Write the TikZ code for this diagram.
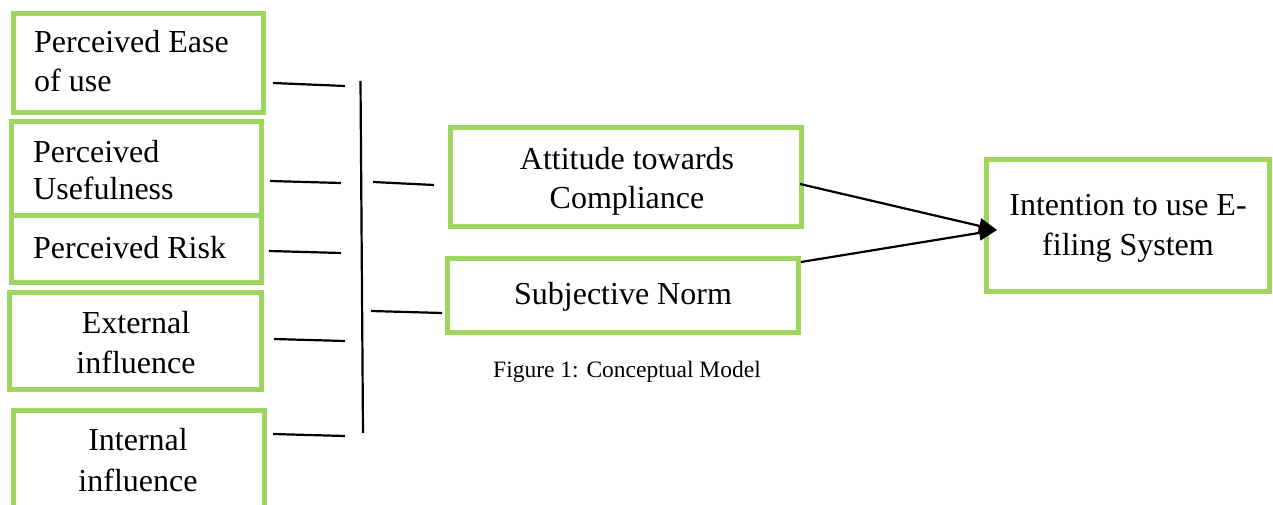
\documentclass[tikz,border=0pt]{standalone}
\usepackage{fontspec}
\setmainfont{Liberation Serif}
\usetikzlibrary{arrows.meta}
\definecolor{boxgreen}{RGB}{158,212,96}
\tikzset{
  gbox/.style={draw=boxgreen, line width=5pt, rectangle, inner sep=0pt},
  txt/.style={inner sep=0pt, font=\fontsize{32}{39}\selectfont},
  conn/.style={draw=black, line width=2.2pt},
  arr/.style={conn, -{Triangle[length=18pt,width=15pt]}},
}
\begin{document}
\begin{tikzpicture}[x=1pt,y=-1pt]
\useasboundingbox (0,0) rectangle (1273,505);
% left boxes
\node[gbox, minimum width=250pt, minimum height=99pt] (b1) at (138.5,63) {};
\node[txt, anchor=base west] (t1a) at (34,53) {Perceived Ease};
\node[txt, anchor=base west] (t1b) at (34,92) {of use};
\node[gbox, minimum width=250.5pt, minimum height=93.5pt] (b2) at (136.25,168.25) {};
\node[txt, anchor=base west] (t2a) at (33,163) {Perceived};
\node[txt, anchor=base west] (t2b) at (33,200) {Usefulness};
\node[gbox, minimum width=250.5pt, minimum height=67.5pt] (b3) at (136.25,248.75) {};
\node[txt, anchor=base west] (t3) at (33,258) {Perceived Risk};
\node[gbox, minimum width=252pt, minimum height=97pt] (b4) at (135.5,341) {};
\node[txt, anchor=base] (t4a) at (136,333) {External};
\node[txt, anchor=base] (t4b) at (136,373) {influence};
\node[gbox, minimum width=251pt, minimum height=110pt] (b5) at (139,465.5) {};
\node[txt, anchor=base] (t5a) at (138,450) {Internal};
\node[txt, anchor=base] (t5b) at (138,491) {influence};
% middle boxes
\node[gbox, minimum width=351pt, minimum height=99pt] (att) at (626,177) {};
\node[txt, anchor=base] (ta) at (627,170) {Attitude towards};
\node[txt, anchor=base] (tb) at (627,208) {Compliance};
\node[gbox, minimum width=351pt, minimum height=74pt] (sn) at (623,295.5) {};
\node[txt, anchor=base] (ts) at (623,304) {Subjective Norm};
\node[inner sep=0pt, anchor=base, font=\fontsize{23.5}{28}\selectfont] (cap) at (627,377) {Figure 1: Conceptual Model};
% right box
\node[gbox, minimum width=283pt, minimum height=132pt] (int) at (1128,225.5) {};
\node[txt, anchor=base] (ti) at (1128,215) {Intention to use E-};
\node[txt, anchor=base] (tj) at (1128,255) {filing System};
% connector end points
\coordinate (l1s) at (273,83);  \coordinate (l1e) at (345,86);
\coordinate (l2s) at (270,181); \coordinate (l2e) at (341,183);
\coordinate (l3s) at (269,251); \coordinate (l3e) at (341,253);
\coordinate (l4s) at (274,339); \coordinate (l4e) at (345,341);
\coordinate (l5s) at (273,434); \coordinate (l5e) at (345,436);
\coordinate (vt) at (360.5,81); \coordinate (vb) at (363,433);
\coordinate (r1s) at (373,182); \coordinate (r1e) at (434,185);
\coordinate (r2s) at (371,311); \coordinate (r2e) at (442,313);
\coordinate (a1s) at (800,184); \coordinate (a2s) at (801,262);
\coordinate (tip) at (997,230);
\draw[conn] (l1s) -- (l1e);
\draw[conn] (l2s) -- (l2e);
\draw[conn] (l3s) -- (l3e);
\draw[conn] (l4s) -- (l4e);
\draw[conn] (l5s) -- (l5e);
\draw[conn] (vt) -- (vb);
\draw[conn] (r1s) -- (r1e);
\draw[conn] (r2s) -- (r2e);
\draw[arr] (a1s) -- (tip);
\draw[arr] (a2s) -- (tip);
\end{tikzpicture}
\end{document}
